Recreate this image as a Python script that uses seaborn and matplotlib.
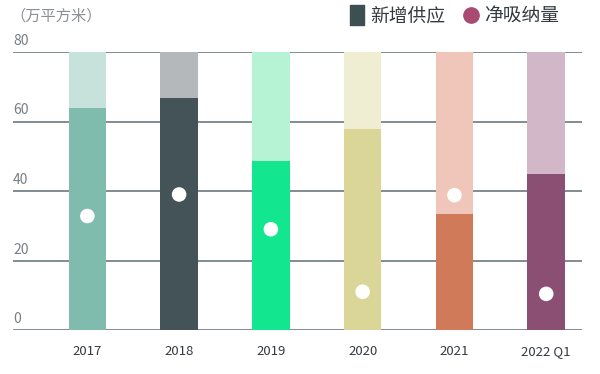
import matplotlib
matplotlib.use("Agg")
import matplotlib.pyplot as plt
import matplotlib.transforms as mtransforms
from matplotlib.lines import Line2D
import seaborn as sns
import pandas as pd

# 数据
categories = ["2017", "2018", "2019", "2020", "2021", "2022 Q1"]
new_supply = [63.8, 66.7, 48.6, 57.8, 33.3, 44.9]      # 新增供应
net_absorption = [32.8, 39.0, 29.0, 11.0, 38.8, 10.4]  # 净吸纳量
cap = [80] * len(categories)

dark_colors = ["#7fbcad", "#435357", "#12e68f", "#dad698", "#d07a5a", "#8a4f73"]
light_colors = ["#c6e2db", "#b5b8bb", "#b6f3d4", "#efeed3", "#efc6b9", "#d1b7c8"]

df = pd.DataFrame({"cat": categories, "supply": new_supply,
                   "absorb": net_absorption, "cap": cap})

sns.set_theme(style="white")
plt.rcParams["font.family"] = ["Noto Sans CJK SC", "DejaVu Sans"]

fig = plt.figure(figsize=(6, 3.74), dpi=100)
ax = fig.add_axes([13 / 600, 1 - 330 / 374, 569 / 600, 278 / 374])

sns.barplot(data=df, x="cat", y="cap", hue="cat", palette=light_colors,
            width=0.41, legend=False, ax=ax, zorder=2, saturation=1,
            linewidth=0)
sns.barplot(data=df, x="cat", y="supply", hue="cat", palette=dark_colors,
            width=0.41, legend=False, ax=ax, zorder=3, saturation=1,
            linewidth=0)
sns.scatterplot(data=df, x="cat", y="absorb", color="white", s=110,
                edgecolor="none", ax=ax, zorder=4)

ax.set_ylim(0, 80)
ax.set_xlim(-0.81, 5.39)
ax.set_yticks([0, 20, 40, 60, 80])
ax.yaxis.grid(True, color="#6c7880", linewidth=1.2, zorder=0)
ax.set_axisbelow(True)
for s in ax.spines.values():
    s.set_visible(False)
ax.set_xlabel("")
ax.set_ylabel("")
ax.tick_params(axis="y", length=0, pad=0, labelsize=10, labelcolor="#777e85")
up = mtransforms.ScaledTranslation(0, 4 / 100, fig.dpi_scale_trans)
for lbl in ax.get_yticklabels():
    lbl.set_horizontalalignment("left")
    lbl.set_verticalalignment("bottom")
    lbl.set_transform(lbl.get_transform() + up)
ax.tick_params(axis="x", length=0, pad=11, labelsize=9.5, labelcolor="#333a40")

fig.text(10 / 600, 1 - 16 / 374, "（万平方米）", fontsize=11, color="#8a8f94",
         va="center", ha="left")

rect = [(-1, -1.5), (1, -1.5), (1, 1.5), (-1, 1.5), (-1, -1.5)]
handles = [
    Line2D([], [], marker=rect, linestyle="none", color="#3d4f50", markersize=15),
    Line2D([], [], marker="o", linestyle="none", color="#a94a72", markersize=11),
]
fig.legend(handles, ["新增供应", "净吸纳量"], loc="center right",
           bbox_to_anchor=(0.945, 1 - 16 / 374), ncol=2, frameon=False,
           fontsize=13.5, handletextpad=0.3, columnspacing=1.0,
           handlelength=0.8, labelcolor="#333a40", borderaxespad=0)

fig.savefig("out.png", dpi=100)
